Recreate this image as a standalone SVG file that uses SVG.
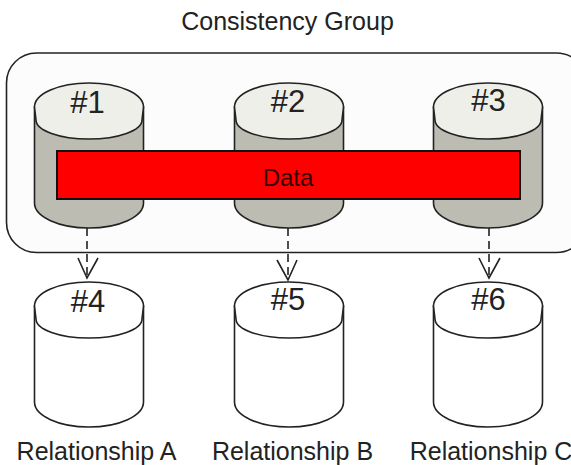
<svg xmlns="http://www.w3.org/2000/svg" width="571" height="465" viewBox="0 0 571 465">
<style>
text{font-family:"Liberation Sans",Arial,sans-serif;fill:#222;text-anchor:middle}
.l{font-size:25px}
.n{font-size:31px}
.d{font-size:24px;fill:#300}
.c{fill:none;stroke:#222;stroke-width:1.6}
.a{stroke-dasharray:8 5}
.s{stroke:#222;stroke-width:1.6}
</style>
<defs>
<path id="body" d="M-54.500 -4V92A54.500 25 0 0 0 54.500 92V-4Z"/>
<path id="top" d="M-54.500 -4A54.500 24 0 0 1 54.500 -4L53 9A53 19 0 0 1 -53 9Z"/>
</defs>
<rect width="571" height="465" fill="#fff"/>
<text class="l" x="287.500" y="30">Consistency Group</text>
<g id="group"><rect x="6.500" y="53" width="580" height="199.500" rx="30" ry="30" fill="#fcfcfc" stroke="#222" stroke-width="1.600"/></g>
<g id="connectors">
<path class="c a" d="M87 228V278M288 228V279M489 228V278"/>
<path class="c" d="M78 258L87 278L98 258M277 260L288 280L297 260M479 258L489 278L500 258"/>
</g>
<g id="n1"><use href="#body" class="s" fill="#bcbcb2" x="89" y="111"/><use href="#top" class="s" fill="#efefe9" x="89" y="111"/><text class="n" x="87.500" y="113">#1</text></g>
<g id="n2"><use href="#body" class="s" fill="#bcbcb2" x="289" y="111"/><use href="#top" class="s" fill="#efefe9" x="289" y="111"/><text class="n" x="288" y="112">#2</text></g>
<g id="n3"><use href="#body" class="s" fill="#bcbcb2" x="488" y="111"/><use href="#top" class="s" fill="#efefe9" x="488" y="111"/><text class="n" x="488.500" y="111">#3</text></g>
<g id="n4"><use href="#body" class="s" fill="#fff" x="89" y="310"/><use href="#top" class="s" fill="#fff" x="89" y="310"/><text class="n" x="88" y="312">#4</text></g>
<g id="n5"><use href="#body" class="s" fill="#fff" x="289" y="310"/><use href="#top" class="s" fill="#fff" x="289" y="310"/><text class="n" x="288" y="310">#5</text></g>
<g id="n6"><use href="#body" class="s" fill="#fff" x="488" y="310"/><use href="#top" class="s" fill="#fff" x="488" y="310"/><text class="n" x="488.500" y="310">#6</text></g>
<g id="data"><rect x="57" y="151" width="463" height="48" fill="#f00" stroke="#111" stroke-width="2"/><text class="d" x="288" y="186">Data</text></g>
<g id="labels">
<text class="l" x="96.500" y="460">Relationship A</text>
<text class="l" x="292.500" y="460">Relationship B</text>
<text class="l" x="491" y="460">Relationship C</text>
</g>
</svg>
